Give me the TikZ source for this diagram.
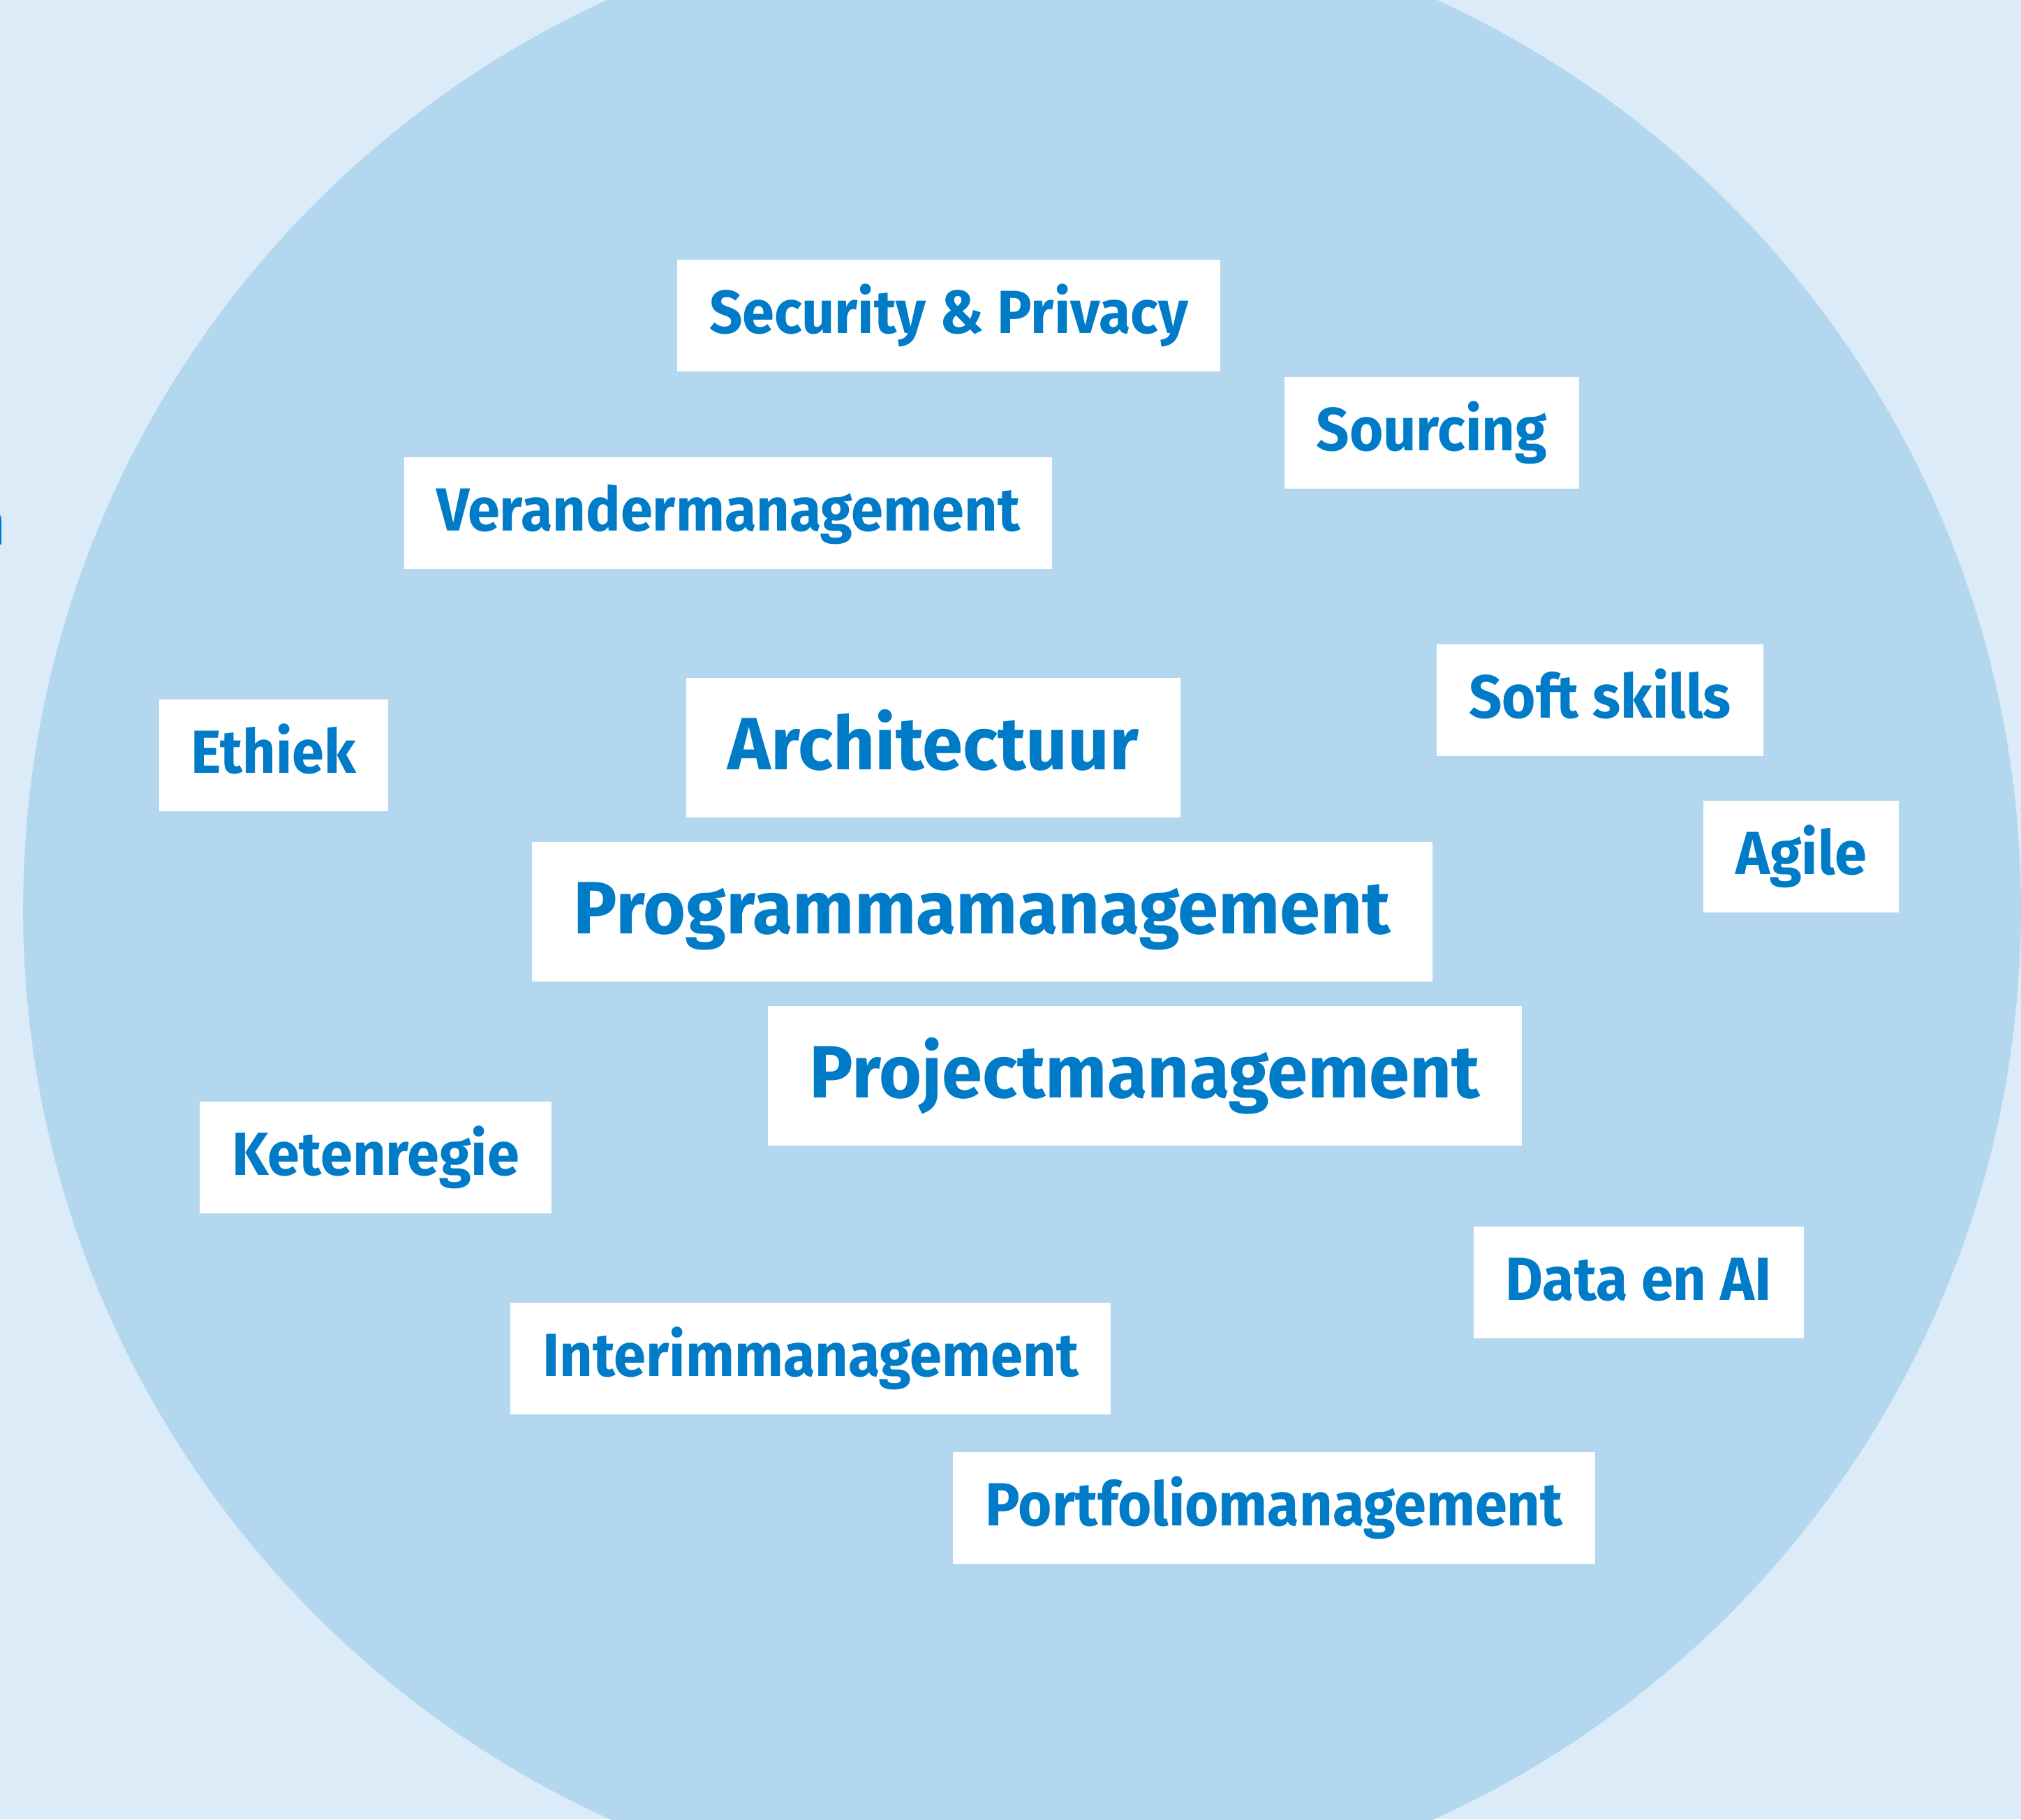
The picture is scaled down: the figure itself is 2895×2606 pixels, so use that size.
\documentclass[tikz,border=0pt]{standalone}
\usepackage{fontspec}
\setmainfont{Fira Sans}
\newfontfamily\smallfont[FakeStretch=0.95]{Fira Sans}
\newfontfamily\bigfont[FakeStretch=0.985]{Fira Sans}
\definecolor{bgblue}{HTML}{DBEBF7}
\definecolor{circblue}{HTML}{B3D7EE}
\definecolor{txtblue}{HTML}{007BC7}

\begin{document}
\begin{tikzpicture}[x=0.01cm,y=-0.01cm,
			label/.style={fill=white,text=txtblue,font=\smallfont\fontsize{24.8}{30}\selectfont\bfseries,
				minimum height=1.59cm,inner ysep=0pt,inner xsep=0.46cm,text height=0.66cm,text depth=0.15cm},
			biglabel/.style={label,font=\bigfont\fontsize{30.2}{36}\selectfont\bfseries,
				minimum height=1.99cm,inner xsep=0.6cm,text height=0.80cm,text depth=0.17cm}]
			\clip (0,0) rectangle (2895,2606);
			\fill[bgblue] (0,0) rectangle (2895,2606);
			\fill[circblue] (1464,1302) circle[radius=14.3cm];
			\node[text=txtblue,font=\smallfont\fontsize{24.8}{30}\selectfont\bfseries,inner sep=0pt,anchor=base east] (cut) at (8,780) {n};
			% small labels
			\node[label] (sec) at (1359,452) {Security \& Privacy};
			\node[label] (src) at (2051,620) {Sourcing};
			\node[label] (ver) at (1043,735) {Verandermanagement};
			\node[label] (soft) at (2292,1003) {Soft skills};
			\node[label] (eth) at (392,1082) {Ethiek};
			\node[label] (agile) at (2580,1227) {Agile};
			\node[label] (keten) at (538,1658) {Ketenregie};
			\node[label] (data) at (2347,1837) {Data en AI};
			\node[label] (interim) at (1161,1946) {Interimmanagement};
			\node[label] (port) at (1825,2160) {Portfoliomanagement};
			% big labels
			\node[biglabel] (arch) at (1337,1071) {Architectuur};
			\node[biglabel] (prog) at (1407,1306) {Programmamanagement};
			\node[biglabel] (proj) at (1640,1541) {Projectmanagement};
		\end{tikzpicture}
\end{document}
